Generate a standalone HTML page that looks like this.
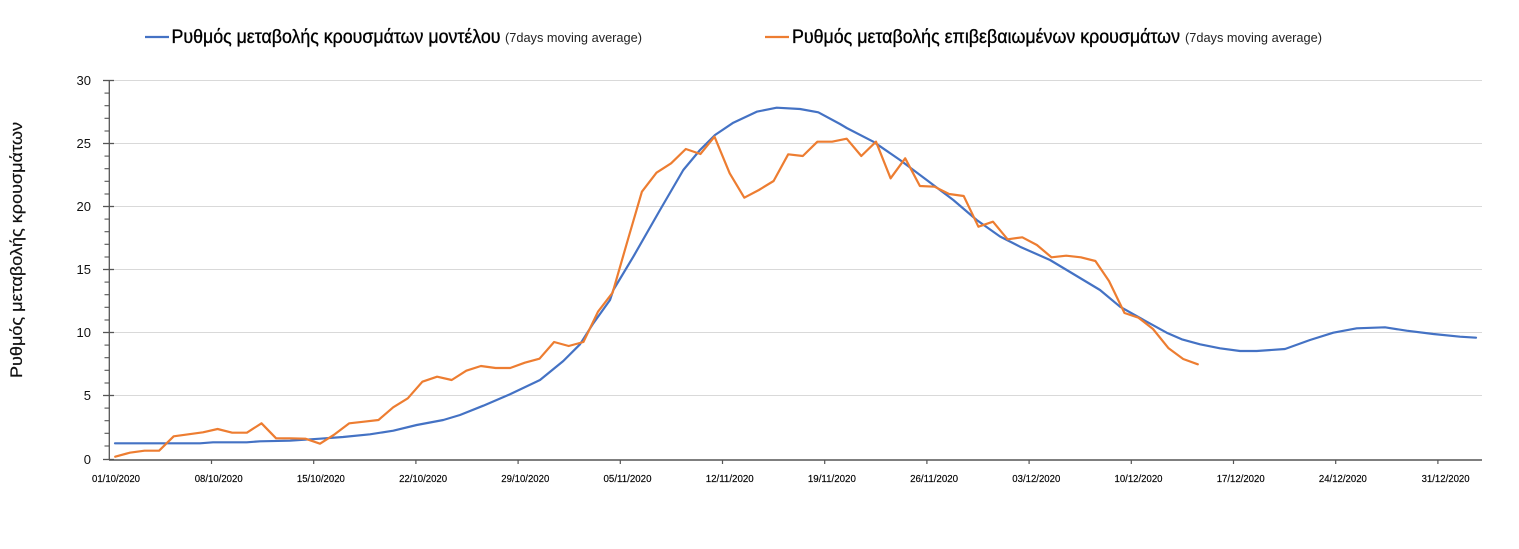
<!DOCTYPE html>
<html>
<head>
<meta charset="utf-8">
<style>
html,body{margin:0;padding:0;background:#fff;}
svg{display:block;}
text{font-family:"Liberation Sans","DejaVu Sans",sans-serif;}
</style>
</head>
<body>
<svg width="1519" height="549" viewBox="0 0 1519 549" xmlns="http://www.w3.org/2000/svg">
<rect width="1519" height="549" fill="#fff"/>

<!-- Legend -->
<line x1="145" y1="37" x2="169" y2="37" stroke="#4472C4" stroke-width="2.2"/>
<text x="171.5" y="43" font-size="19" fill="#000" stroke="#000" stroke-width="0.35" textLength="329" lengthAdjust="spacingAndGlyphs">Ρυθμός μεταβολής κρουσμάτων μοντέλου</text>
<text x="505" y="42" font-size="12.5" fill="#222" textLength="137" lengthAdjust="spacingAndGlyphs">(7days moving average)</text>

<line x1="765" y1="37" x2="789" y2="37" stroke="#ED7D31" stroke-width="2.2"/>
<text x="792" y="43" font-size="19" fill="#000" stroke="#000" stroke-width="0.35" textLength="388" lengthAdjust="spacingAndGlyphs">Ρυθμός μεταβολής επιβεβαιωμένων κρουσμάτων</text>
<text x="1185" y="42" font-size="12.5" fill="#222" textLength="137" lengthAdjust="spacingAndGlyphs">(7days moving average)</text>

<!-- Y axis title -->
<text transform="translate(22,250) rotate(-90)" text-anchor="middle" font-size="17" fill="#111" stroke="#111" stroke-width="0.2" textLength="256" lengthAdjust="spacingAndGlyphs">Ρυθμός μεταβολής κρουσμάτων</text>

<!-- Gridlines -->
<g stroke="#d9d9d9" stroke-width="1">
<line x1="109" y1="80.5" x2="1482" y2="80.5"/>
<line x1="109" y1="143.5" x2="1482" y2="143.5"/>
<line x1="109" y1="206.5" x2="1482" y2="206.5"/>
<line x1="109" y1="269.5" x2="1482" y2="269.5"/>
<line x1="109" y1="332.5" x2="1482" y2="332.5"/>
<line x1="109" y1="395.5" x2="1482" y2="395.5"/>
</g>

<!-- Y axis -->
<g stroke="#555" stroke-width="1.3">
<line x1="109.3" y1="80" x2="109.3" y2="460"/>
<line x1="103" y1="80.5" x2="114" y2="80.5"/>
<line x1="103" y1="143.5" x2="114" y2="143.5"/>
<line x1="103" y1="206.5" x2="114" y2="206.5"/>
<line x1="103" y1="269.5" x2="114" y2="269.5"/>
<line x1="103" y1="332.5" x2="114" y2="332.5"/>
<line x1="103" y1="395.5" x2="114" y2="395.5"/>
<line x1="103" y1="459.5" x2="114" y2="459.5"/>
</g>
<g stroke="#555" stroke-width="1.1">
<line x1="104.5" y1="93.1" x2="109.3" y2="93.1"/>
<line x1="104.5" y1="105.7" x2="109.3" y2="105.7"/>
<line x1="104.5" y1="118.3" x2="109.3" y2="118.3"/>
<line x1="104.5" y1="131.0" x2="109.3" y2="131.0"/>
<line x1="104.5" y1="156.1" x2="109.3" y2="156.1"/>
<line x1="104.5" y1="168.7" x2="109.3" y2="168.7"/>
<line x1="104.5" y1="181.3" x2="109.3" y2="181.3"/>
<line x1="104.5" y1="194.0" x2="109.3" y2="194.0"/>
<line x1="104.5" y1="219.1" x2="109.3" y2="219.1"/>
<line x1="104.5" y1="231.7" x2="109.3" y2="231.7"/>
<line x1="104.5" y1="244.3" x2="109.3" y2="244.3"/>
<line x1="104.5" y1="257.0" x2="109.3" y2="257.0"/>
<line x1="104.5" y1="282.1" x2="109.3" y2="282.1"/>
<line x1="104.5" y1="294.7" x2="109.3" y2="294.7"/>
<line x1="104.5" y1="307.3" x2="109.3" y2="307.3"/>
<line x1="104.5" y1="320.0" x2="109.3" y2="320.0"/>
<line x1="104.5" y1="345.1" x2="109.3" y2="345.1"/>
<line x1="104.5" y1="357.7" x2="109.3" y2="357.7"/>
<line x1="104.5" y1="370.3" x2="109.3" y2="370.3"/>
<line x1="104.5" y1="383.0" x2="109.3" y2="383.0"/>
<line x1="104.5" y1="408.1" x2="109.3" y2="408.1"/>
<line x1="104.5" y1="420.7" x2="109.3" y2="420.7"/>
<line x1="104.5" y1="433.3" x2="109.3" y2="433.3"/>
<line x1="104.5" y1="446.0" x2="109.3" y2="446.0"/>
</g>

<!-- Y labels -->
<g font-size="13" fill="#111" text-anchor="end">
<text x="91" y="85">30</text>
<text x="91" y="148">25</text>
<text x="91" y="211">20</text>
<text x="91" y="274">15</text>
<text x="91" y="337">10</text>
<text x="91" y="400">5</text>
<text x="91" y="464">0</text>
</g>

<!-- X axis -->
<g stroke="#555" stroke-width="1.4">
<line x1="109" y1="460" x2="1482" y2="460"/>
</g>
<g stroke="#555" stroke-width="1.2">
<line x1="211.5" y1="460" x2="211.5" y2="464"/>
<line x1="313.7" y1="460" x2="313.7" y2="464"/>
<line x1="415.9" y1="460" x2="415.9" y2="464"/>
<line x1="518.1" y1="460" x2="518.1" y2="464"/>
<line x1="620.3" y1="460" x2="620.3" y2="464"/>
<line x1="722.5" y1="460" x2="722.5" y2="464"/>
<line x1="824.7" y1="460" x2="824.7" y2="464"/>
<line x1="926.9" y1="460" x2="926.9" y2="464"/>
<line x1="1029.1" y1="460" x2="1029.1" y2="464"/>
<line x1="1131.3" y1="460" x2="1131.3" y2="464"/>
<line x1="1233.5" y1="460" x2="1233.5" y2="464"/>
<line x1="1335.7" y1="460" x2="1335.7" y2="464"/>
<line x1="1437.9" y1="460" x2="1437.9" y2="464"/>
</g>

<!-- X labels -->
<g font-size="9.8" fill="#000" stroke="#000" stroke-width="0.15" text-anchor="middle">
<text x="116" y="482" textLength="48" lengthAdjust="spacingAndGlyphs">01/10/2020</text>
<text x="218.7" y="482" textLength="48" lengthAdjust="spacingAndGlyphs">08/10/2020</text>
<text x="320.9" y="482" textLength="48" lengthAdjust="spacingAndGlyphs">15/10/2020</text>
<text x="423.1" y="482" textLength="48" lengthAdjust="spacingAndGlyphs">22/10/2020</text>
<text x="525.3" y="482" textLength="48" lengthAdjust="spacingAndGlyphs">29/10/2020</text>
<text x="627.5" y="482" textLength="48" lengthAdjust="spacingAndGlyphs">05/11/2020</text>
<text x="729.7" y="482" textLength="48" lengthAdjust="spacingAndGlyphs">12/11/2020</text>
<text x="831.9" y="482" textLength="48" lengthAdjust="spacingAndGlyphs">19/11/2020</text>
<text x="934.1" y="482" textLength="48" lengthAdjust="spacingAndGlyphs">26/11/2020</text>
<text x="1036.3" y="482" textLength="48" lengthAdjust="spacingAndGlyphs">03/12/2020</text>
<text x="1138.5" y="482" textLength="48" lengthAdjust="spacingAndGlyphs">10/12/2020</text>
<text x="1240.7" y="482" textLength="48" lengthAdjust="spacingAndGlyphs">17/12/2020</text>
<text x="1342.9" y="482" textLength="48" lengthAdjust="spacingAndGlyphs">24/12/2020</text>
<text x="1445.6" y="482" textLength="48" lengthAdjust="spacingAndGlyphs">31/12/2020</text>
</g>

<!-- Blue series (model) -->
<polyline fill="none" stroke="#4472C4" stroke-width="2.2" stroke-linejoin="round" stroke-linecap="round"
points="115,443.3 200,443.3 213,442.3 246.7,442.3 260,441.3 290,440.7 320,438.7 343,437 370,434.3 393.3,430.7 416.7,425 443.3,420 460,415 483.3,405.7 510,394.3 540,380 563.3,361 580,344.3 593.3,323.3 610,300 613.3,290 633.3,256.7 660,210 683.3,170 700,150 715,135 733.3,122.7 756.7,111.7 776.7,107.7 800,109 818.3,112.3 840,124 846.7,128 873.3,141.7 900,160 926.7,180 953.3,200 976.7,220 1000,236.5 1020,246.7 1050,260 1066.7,270 1100,290 1120,306.7 1146.7,321.7 1166.7,332.7 1181.7,339.3 1200,344.3 1220,348.3 1240,351 1256.7,351 1285,349 1310,340 1333.3,332.7 1356.7,328.3 1385,327.3 1406.7,330.7 1433.3,334 1460,336.7 1476,337.7"/>

<!-- Orange series (confirmed) -->
<polyline fill="none" stroke="#ED7D31" stroke-width="2.2" stroke-linejoin="round" stroke-linecap="round"
points="115.2,456.7 129.8,452.7 144.5,450.7 159.1,450.7 173.7,436.3 188.4,434.3 203,432.3 217.6,429 232.2,432.7 246.9,432.7 261.5,423.3 276.1,438.3 290.8,438.3 305.4,438.7 320,443.7 334.7,434.3 349.3,423.3 363.9,421.7 378.5,420 393.2,407.3 407.8,398.3 422.4,381.7 437.1,376.7 451.7,380 466.3,370.7 480.9,366 495.6,368 510.2,368 524.8,362.7 539.5,358.7 554.1,342 568.7,346 583.4,342 598,311.7 612.6,292.7 627.2,242 641.9,191.7 656.5,172.7 671.1,163.3 685.8,149 700.4,154 714.5,136.7 729.7,173.3 744.3,197.7 758.9,190 773.6,181 788.2,154.3 802.8,156 817.4,141.7 832.1,141.7 846.7,138.7 861.3,156 876,141.7 890.6,178.3 905.2,158.3 919.9,186 934.5,186.7 949.1,194 963.7,196 978.4,226.7 993,221.7 1007.6,239.3 1022.3,237.3 1036.9,245 1051.5,257.3 1066.2,255.7 1080.8,257.3 1095.4,261 1109,281 1124.5,313 1138.5,317.7 1153,329 1168.6,348.3 1183.2,359 1197.8,364.3"/>
</svg>
</body>
</html>
